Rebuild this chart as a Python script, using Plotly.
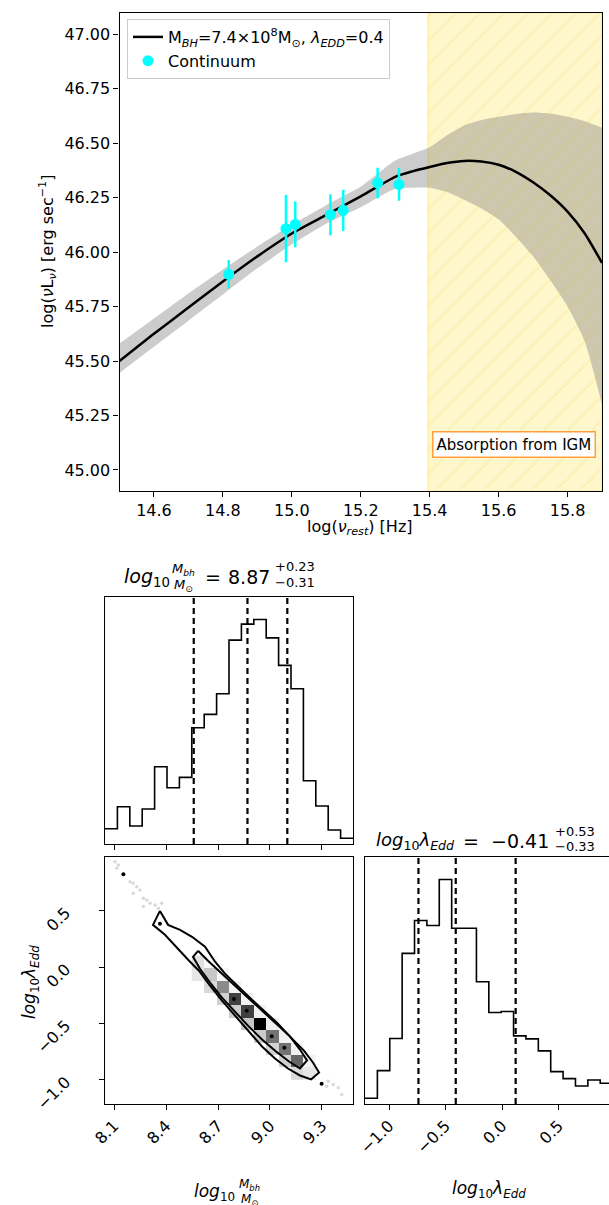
import plotly.graph_objects as go

W, H = 609, 1205
FONT = "DejaVu Sans"

# ---------------- SED panel data ----------------
nu_model = [14.5, 14.6, 14.7, 14.8, 14.9, 15.0, 15.1, 15.2, 15.3, 15.35, 15.4, 15.45,
            15.5, 15.55, 15.6, 15.65, 15.7, 15.75, 15.8, 15.85, 15.9]
lum_model = [45.50, 45.625, 45.745, 45.865, 45.98, 46.085, 46.17, 46.255, 46.345, 46.37, 46.39, 46.408,
             46.418, 46.415, 46.40, 46.368, 46.32, 46.26, 46.185, 46.085, 45.95]
band_lo = [45.445, 45.565, 45.685, 45.805, 45.925, 46.035, 46.13, 46.205, 46.29, 46.295, 46.295, 46.275,
           46.24, 46.20, 46.15, 46.07, 45.98, 45.87, 45.75, 45.59, 45.30]
band_hi = [45.58, 45.695, 45.81, 45.92, 46.025, 46.125, 46.215, 46.30, 46.42, 46.45, 46.48, 46.535,
           46.58, 46.605, 46.62, 46.633, 46.64, 46.635, 46.62, 46.60, 46.57]

obs_nu = [14.817, 14.983, 15.010, 15.112, 15.149, 15.249, 15.311]
obs_lum = [45.898, 46.107, 46.127, 46.171, 46.191, 46.316, 46.310]
obs_err = [0.065, 0.154, 0.105, 0.094, 0.095, 0.070, 0.075]

igm_nu = [15.395, 15.9]
sed_xrange = [14.5, 15.9]
sed_yrange = [44.905, 47.095]
sed_xticks = [14.6, 14.8, 15.0, 15.2, 15.4, 15.6, 15.8]
sed_yticks = [45.0, 45.25, 45.5, 45.75, 46.0, 46.25, 46.5, 46.75, 47.0]

# ---------------- corner plot data ----------------
mbh_range = [8.048, 9.479]
ledd_range = [-1.213, 0.978]
ledd_hist_view = [-1.213, 0.946]
mbh_counts = [15.3, 37.3, 18.0, 35.0, 77.3, 56.3, 66.7, 116.3, 129.7, 150.3,
              204.0, 220.0, 224.7, 206.3, 178.7, 155.3, 63.3, 38.0, 14.0, 5.7]
ledd_counts = [5.7, 33.3, 65.3, 150.3, 183.0, 178.0, 224.0, 175.3, 175.3, 122.0,
               91.3, 92.3, 68.0, 65.0, 53.0, 32.3, 25.3, 18.0, 24.0, 20.7]
mbh_q = [8.56, 8.87, 9.10]
ledd_q = [-0.74, -0.41, 0.12]
mbh_ticks = [8.1, 8.4, 8.7, 9.0, 9.3]
mbh_ticktext = ["8.1", "8.4", "8.7", "9.0", "9.3"]
ledd_ticks = [-1.0, -0.5, 0.0, 0.5]
ledd_ticktext = ["\u22121.0", "\u22120.5", "0.0", "0.5"]

# 2D histogram cells (bin index in M_bh, bin index in lambda, grey level)
cell_i = [7, 8, 9, 10, 11, 12, 13, 14, 15, 16,
          8, 9, 10, 11, 12, 13, 14, 15, 16,
          7, 8, 9, 10, 11, 12, 13, 14, 15]
cell_k = [11, 10, 9, 8, 7, 6, 5, 4, 3, 2,
          11, 10, 9, 8, 7, 6, 5, 4, 3,
          10, 9, 8, 7, 6, 5, 4, 3, 2]
cell_level = [0.12, 0.22, 0.45, 0.75, 0.75, 1.0, 0.55, 0.55, 0.6, 0.1,
              0.03, 0.04, 0.05, 0.05, 0.06, 0.06, 0.05, 0.05, 0.05,
              0.1, 0.15, 0.18, 0.2, 0.22, 0.2, 0.18, 0.18, 0.15]

outer_mbh = [8.365, 8.412, 8.481, 8.550, 8.625, 8.683, 8.740, 8.816, 8.896, 8.971, 9.046, 9.121,
             9.196, 9.248, 9.283, 9.237, 9.173, 9.104, 9.029, 8.954, 8.873, 8.792, 8.723, 8.654,
             8.590, 8.533, 8.463, 8.394, 8.325, 8.365]
outer_ledd = [0.500, 0.376, 0.332, 0.270, 0.182, 0.049, -0.057, -0.172, -0.287, -0.394, -0.500, -0.624,
              -0.739, -0.845, -0.934, -0.995, -0.960, -0.898, -0.810, -0.703, -0.562, -0.420, -0.296, -0.164,
              -0.031, 0.058, 0.173, 0.288, 0.376, 0.500]
inner_mbh = [8.585, 8.642, 8.723, 8.804, 8.885, 8.960, 9.041, 9.116, 9.173, 9.214, 9.173, 9.110,
             9.035, 8.954, 8.873, 8.798, 8.723, 8.654, 8.596, 8.556, 8.585]
inner_ledd = [0.146, 0.058, -0.057, -0.172, -0.287, -0.394, -0.500, -0.615, -0.730, -0.827, -0.898, -0.836,
              -0.748, -0.641, -0.518, -0.394, -0.270, -0.137, -0.013, 0.093, 0.146]

faint_mbh = [8.106, 8.125, 8.116, 8.192, 8.211, 8.231, 8.250, 8.269, 8.289, 8.308, 8.337, 8.356,
             8.375, 8.269, 8.211, 9.337, 9.365, 9.394, 9.414, 9.327]
faint_ledd = [0.936, 0.907, 0.878, 0.759, 0.745, 0.715, 0.686, 0.613, 0.597, 0.568, 0.553, 0.524,
              0.568, 0.538, 0.657, -1.011, -1.040, -1.069, -1.128, -1.055]
dark_mbh = [8.154, 8.365, 9.298, 8.792, 8.866, 9.010, 9.083]
dark_ledd = [0.825, 0.385, -1.034, -0.281, -0.385, -0.612, -0.715]


def hist_edges(rng, n):
    w = (rng[1] - rng[0]) / n
    return [rng[0] + i * w for i in range(n + 1)], w


mbh_edges, mbh_w = hist_edges(mbh_range, len(mbh_counts))
ledd_edges, ledd_w = hist_edges(ledd_range, len(ledd_counts))

fig = go.Figure()

# ---- SED panel ----
rect_x = [igm_nu[0], igm_nu[1], igm_nu[1], igm_nu[0], igm_nu[0]]
rect_y = [sed_yrange[0], sed_yrange[0], sed_yrange[1], sed_yrange[1], sed_yrange[0]]
fig.add_trace(go.Scatter(x=rect_x, y=rect_y, mode="lines", fill="toself",
                         fillcolor="rgba(255,215,0,0.2)",
                         line=dict(color="rgba(240,200,0,0.35)", width=1),
                         hoverinfo="skip", showlegend=False, xaxis="x", yaxis="y"))
fig.add_trace(go.Scatter(x=nu_model, y=band_hi, mode="lines", line=dict(width=0, shape="spline", smoothing=0.6),
                         hoverinfo="skip", showlegend=False, xaxis="x", yaxis="y"))
fig.add_trace(go.Scatter(x=nu_model, y=band_lo, mode="lines", line=dict(width=0, shape="spline", smoothing=0.6),
                         fill="tonexty", fillcolor="rgba(128,128,128,0.4)",
                         hoverinfo="skip", showlegend=False, xaxis="x", yaxis="y"))
fig.add_trace(go.Scatter(x=rect_x, y=rect_y, mode="lines", fill="toself",
                         fillcolor="rgba(0,0,0,0)",
                         fillpattern=dict(shape="/", fgcolor="rgba(235,195,0,0.45)",
                                          bgcolor="rgba(0,0,0,0)", size=17, solidity=0.06),
                         line=dict(width=0), hoverinfo="skip", showlegend=False,
                         xaxis="x", yaxis="y"))
fig.add_trace(go.Scatter(x=nu_model, y=lum_model, mode="lines",
                         line=dict(color="black", width=2.5, shape="spline", smoothing=0.6),
                         name="M<sub><i>BH</i></sub>=7.4\u00d710<sup>8</sup>M<sub>\u2299</sub>, "
                              "<i>\u03bb</i><sub><i>EDD</i></sub>=0.4",
                         xaxis="x", yaxis="y"))
fig.add_trace(go.Scatter(x=obs_nu, y=obs_lum, mode="markers", name="Continuum",
                         marker=dict(color="cyan", size=11),
                         error_y=dict(type="data", array=obs_err, color="cyan", thickness=2.5, width=0),
                         xaxis="x", yaxis="y"))

# ---- corner: M_bh histogram ----
fig.add_trace(go.Scatter(x=mbh_edges, y=mbh_counts + [mbh_counts[-1]], mode="lines",
                         line=dict(color="black", width=1.6, shape="hv"),
                         hoverinfo="skip", showlegend=False, xaxis="x2", yaxis="y2"))
# ---- corner: lambda histogram ----
fig.add_trace(go.Scatter(x=ledd_edges, y=ledd_counts + [ledd_counts[-1]], mode="lines",
                         line=dict(color="black", width=1.6, shape="hv"),
                         hoverinfo="skip", showlegend=False, xaxis="x4", yaxis="y4"))

# ---- corner: 2D panel ----
cell_x = [mbh_range[0] + (i + 0.5) * mbh_w for i in cell_i]
cell_y = [ledd_range[0] + (k + 0.5) * ledd_w for k in cell_k]
fig.add_trace(go.Heatmap(x=cell_x, y=cell_y, z=cell_level, zmin=0, zmax=1,
                         colorscale=[[0, "white"], [1, "black"]], showscale=False,
                         hoverinfo="skip", xaxis="x3", yaxis="y3"))
fig.add_trace(go.Scatter(x=faint_mbh, y=faint_ledd, mode="markers",
                         marker=dict(color="rgba(0,0,0,0.15)", size=3.5),
                         hoverinfo="skip", showlegend=False, xaxis="x3", yaxis="y3"))
fig.add_trace(go.Scatter(x=outer_mbh, y=outer_ledd, mode="lines",
                         line=dict(color="black", width=2),
                         hoverinfo="skip", showlegend=False, xaxis="x3", yaxis="y3"))
fig.add_trace(go.Scatter(x=inner_mbh, y=inner_ledd, mode="lines",
                         line=dict(color="black", width=2),
                         hoverinfo="skip", showlegend=False, xaxis="x3", yaxis="y3"))
fig.add_trace(go.Scatter(x=dark_mbh, y=dark_ledd, mode="markers",
                         marker=dict(color="black", size=4),
                         hoverinfo="skip", showlegend=False, xaxis="x3", yaxis="y3"))

shapes = []
for q in mbh_q:
    shapes.append(dict(type="line", xref="x2", yref="y2 domain", x0=q, x1=q, y0=0, y1=1,
                       line=dict(color="black", width=2.2, dash="6px,4px")))
for q in ledd_q:
    shapes.append(dict(type="line", xref="x4", yref="y4 domain", x0=q, x1=q, y0=0, y1=1,
                       line=dict(color="black", width=2.2, dash="6px,4px")))


def px(x):
    return x / W


def py(y):
    return 1 - y / H


def ann(text, x, y, size=16, xanchor="center", yanchor="middle", angle=0):
    return dict(text=text, x=px(x), y=py(y), xref="paper", yref="paper", showarrow=False,
                xanchor=xanchor, yanchor=yanchor, textangle=angle,
                font=dict(size=size, color="black", family=FONT))


annotations = [
    dict(text="Absorption from IGM", x=15.645, y=45.117, xref="x", yref="y", showarrow=False,
         bgcolor="white", bordercolor="#ffa040", borderwidth=1.5, borderpad=3,
         font=dict(size=15, color="black", family=FONT)),
    ann("log(<i>\u03bd</i><sub><i>rest</i></sub>) [Hz]", 360, 527),
    ann("log(<i>\u03bd</i>L<sub><i>\u03bd</i></sub>) [erg sec<sup>\u22121</sup>]", 47, 252, angle=-90),
    # title M_bh
    ann("<i>log</i><sub>10</sub>", 172, 577, size=19, xanchor="right"),
    ann("<i>M<sub>bh</sub></i>", 183, 569, size=13),
    ann("<i>M</i><sub>\u2299</sub>", 183, 585, size=13),
    ann("=", 213, 577, size=19),
    ann("8.87", 272, 577, size=19, xanchor="right"),
    ann("+0.23", 273, 566, size=13, xanchor="left"),
    ann("\u22120.31", 273, 582, size=13, xanchor="left"),
    # title lambda
    ann("<i>log</i><sub>10</sub><i>\u03bb</i><sub><i>Edd</i></sub>", 374, 841, size=18, xanchor="left"),
    ann("=", 471, 841, size=19),
    ann("\u22120.41", 551, 841, size=19, xanchor="right"),
    ann("+0.53", 553, 831, size=13, xanchor="left"),
    ann("\u22120.33", 553, 847, size=13, xanchor="left"),
    # axis labels
    ann("<i>log</i><sub>10</sub>", 237, 1192, size=17, xanchor="right"),
    ann("<i>M<sub>bh</sub></i>", 249, 1185, size=12),
    ann("<i>M</i><sub>\u2299</sub>", 249, 1200, size=12),
    ann("<i>log</i><sub>10</sub><i>\u03bb</i><sub><i>Edd</i></sub>", 489, 1189, size=17),
    ann("<i>log</i><sub>10</sub><i>\u03bb</i><sub><i>Edd</i></sub>", 30, 982, size=17, angle=-90),
]

axis_common = dict(showline=True, linecolor="black", linewidth=1.2, ticks="outside", ticklen=5,
                   tickwidth=1.2, tickcolor="black", showgrid=False, zeroline=False,
                   automargin=False,
                   tickfont=dict(size=16, color="black", family=FONT))

fig.update_layout(
    width=W, height=H, margin=dict(l=0, r=0, t=0, b=0, autoexpand=False),
    paper_bgcolor="white", plot_bgcolor="white",
    font=dict(family=FONT, color="black"),
    showlegend=True,
    legend=dict(x=px(127), y=py(19), xanchor="left", yanchor="top", traceorder="normal",
                bgcolor="rgba(255,255,255,0.8)", bordercolor="#cccccc", borderwidth=1,
                font=dict(size=16, color="black", family=FONT)),
    xaxis=dict(axis_common, domain=[px(119.5), px(602)], range=sed_xrange, mirror=True,
               tickvals=sed_xticks, tickformat=".1f", anchor="y"),
    yaxis=dict(axis_common, domain=[py(490.7), py(13.3)], range=sed_yrange, mirror=True,
               tickvals=sed_yticks, tickformat=".2f", anchor="x"),
    xaxis2=dict(axis_common, domain=[px(105), px(353)], range=mbh_range, mirror=True,
                tickvals=mbh_ticks, showticklabels=False, anchor="y2"),
    yaxis2=dict(axis_common, domain=[py(844), py(597)], range=[0, 1.1 * max(mbh_counts)],
                mirror=True, ticks="", showticklabels=False, anchor="x2"),
    xaxis3=dict(axis_common, domain=[px(105), px(353)], range=mbh_range, mirror=True,
                tickvals=mbh_ticks, ticktext=mbh_ticktext, tickangle=-45, anchor="y3"),
    yaxis3=dict(axis_common, domain=[py(1104), py(857)], range=ledd_range, mirror=True,
                tickvals=ledd_ticks, ticktext=ledd_ticktext, tickangle=-45, anchor="x3",
                ticklabelstandoff=30),
    xaxis4=dict(axis_common, domain=[px(365), 1.0], range=ledd_hist_view, mirror=True,
                tickvals=ledd_ticks, ticktext=ledd_ticktext, tickangle=-45, anchor="y4"),
    yaxis4=dict(axis_common, domain=[py(1104), py(857)], range=[0, 1.1 * max(ledd_counts)],
                mirror=False, ticks="", showticklabels=False, anchor="x4"),
    shapes=shapes,
    annotations=annotations,
)

fig.write_html("out.html")
